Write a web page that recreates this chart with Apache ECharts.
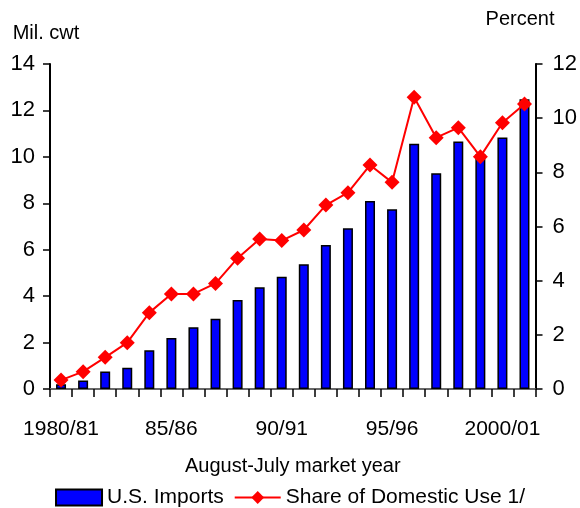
<!DOCTYPE html>
<html>
<head>
<meta charset="utf-8">
<script src="https://cdn.jsdelivr.net/npm/echarts@6/dist/echarts.min.js"></script>
<style>
  html, body { margin: 0; padding: 0; background: #fff; }
  #chart { width: 580px; height: 508px; }
</style>
</head>
<body>
<div id="chart"></div>
<script>
// Market years, August-July
const years = ['1980/81', '81/82', '82/83', '83/84', '84/85', '85/86', '86/87', '87/88',
  '88/89', '89/90', '90/91', '91/92', '92/93', '93/94', '94/95', '95/96', '96/97',
  '97/98', '98/99', '99/00', '2000/01', '01/02'];

// U.S. imports, million cwt
const imports = [0.2, 0.37, 0.75, 0.92, 1.67, 2.2, 2.66, 3.03, 3.83, 4.38, 4.84,
  5.37, 6.2, 6.92, 8.1, 7.74, 10.57, 9.29, 10.66, 10.11, 10.83, 12.48];

// Imports as a share of domestic use, percent
const shareOfUse = [0.33, 0.64, 1.17, 1.71, 2.82, 3.51, 3.51, 3.9, 4.83, 5.54, 5.48,
  5.87, 6.79, 7.25, 8.27, 7.63, 10.77, 9.28, 9.65, 8.58, 9.83, 10.52];

const leftTicks = { min: 0, max: 14, interval: 2 };
const rightTicks = { min: 0, max: 12, interval: 2 };

const FONT = '"Liberation Sans", Arial, sans-serif';

const chart = echarts.init(document.getElementById('chart'), null, { renderer: 'canvas' });

chart.setOption({
  animation: false,
  backgroundColor: '#ffffff',
  textStyle: { fontFamily: FONT, color: '#000' },
  grid: { left: 50, right: 44, top: 64, bottom: 119, containLabel: false },
  legend: {
    left: 'center',
    top: 482,
    itemWidth: 46,
    itemHeight: 16,
    itemGap: 10,
    textStyle: { fontFamily: FONT, fontSize: 21, color: '#000' },
    data: [
      { name: 'U.S. Imports', icon: 'rect' },
      { name: 'Share of Domestic Use 1/' }
    ]
  },
  xAxis: [
    {
      type: 'category',
      data: years,
      position: 'bottom',
      boundaryGap: true,
      name: 'August-July market year',
      nameLocation: 'middle',
      nameGap: 67,
      nameTextStyle: { fontFamily: FONT, fontSize: 20, color: '#000' },
      axisLine: { lineStyle: { color: '#000', width: 2 } },
      axisTick: { show: true, interval: 0, length: 8, lineStyle: { color: '#000', width: 1.5 } },
      axisLabel: {
        interval: (i) => i % 5 === 0,
        margin: 30,
        fontFamily: FONT,
        fontSize: 21,
        color: '#000'
      },
      splitLine: { show: false }
    },
    {
      // plain gray rule along the top of the plot area
      type: 'category',
      data: years,
      position: 'top',
      axisLine: { lineStyle: { color: '#8c8c8c', width: 1.5 } },
      axisTick: { show: false },
      axisLabel: { show: false },
      splitLine: { show: false }
    }
  ],
  yAxis: [
    {
      type: 'value',
      position: 'left',
      min: leftTicks.min,
      max: leftTicks.max,
      interval: leftTicks.interval,
      name: 'Mil. cwt',
      nameLocation: 'end',
      nameGap: 21,
      nameTextStyle: { fontFamily: FONT, fontSize: 20, color: '#000', padding: [0, 8, 0, 0] },
      axisLine: { show: true, lineStyle: { color: '#000', width: 2 } },
      axisTick: { show: true, length: 7, lineStyle: { color: '#000', width: 1.5 } },
      axisLabel: { margin: 15, fontFamily: FONT, fontSize: 22, color: '#000' },
      splitLine: { show: false }
    },
    {
      type: 'value',
      position: 'right',
      min: rightTicks.min,
      max: rightTicks.max,
      interval: rightTicks.interval,
      name: 'Percent',
      nameLocation: 'end',
      nameGap: 35,
      nameTextStyle: { fontFamily: FONT, fontSize: 20, color: '#000', padding: [0, 31, 0, 0] },
      axisLine: { show: true, lineStyle: { color: '#000', width: 2 } },
      axisTick: { show: true, length: 7, lineStyle: { color: '#000', width: 1.5 } },
      axisLabel: { margin: 17, fontFamily: FONT, fontSize: 22, color: '#000' },
      splitLine: { show: false }
    }
  ],
  series: [
    {
      name: 'U.S. Imports',
      type: 'bar',
      xAxisIndex: 0,
      yAxisIndex: 0,
      data: imports,
      barWidth: 10,
      itemStyle: { color: '#0000ff', borderColor: '#000', borderWidth: 1.5 },
      z: 2
    },
    {
      name: 'Share of Domestic Use 1/',
      type: 'line',
      xAxisIndex: 0,
      yAxisIndex: 1,
      data: shareOfUse,
      symbol: 'diamond',
      symbolSize: 15,
      showAllSymbol: true,
      lineStyle: { color: '#ff0000', width: 2 },
      itemStyle: { color: '#ff0000' },
      z: 3
    }
  ]
});
</script>
</body>
</html>
